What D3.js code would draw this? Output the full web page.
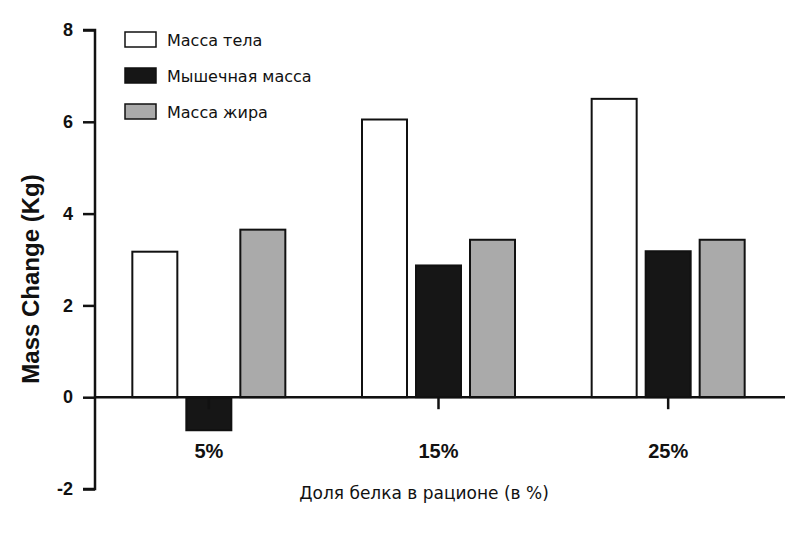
<!DOCTYPE html>
<html><head><meta charset="utf-8">
<script src="https://cdn.jsdelivr.net/npm/d3@7"></script>
<style>body{margin:0;background:#fff}</style>
</head><body>
<svg id="c" width="807" height="542"></svg>
<script>
const groups = ["5%", "15%", "25%"];
const series = ["Масса тела", "Мышечная масса", "Масса жира"];
const bodyMass = [3.17, 6.05, 6.5];
const muscleMass = [-0.72, 2.87, 3.18];
const fatMass = [3.65, 3.43, 3.43];
const yTicks = [-2, 0, 2, 4, 6, 8];
const colors = ["#ffffff", "#161616", "#aaaaaa"];
const yTitle = "Mass Change (Kg)";
const xTitle = "Доля белка в рационе (в %)";

const values = [bodyMass, muscleMass, fatMass];
const svg = d3.select("#c");
const y = d3.scaleLinear().domain([-2, 8]).range([489, 30]);
const x = d3.scaleBand().domain(groups).range([94, 783]);
const xi = d3.scaleBand().domain(series).range([-76.5, 76.5]).paddingInner(0.1667).paddingOuter(0);

// bars
series.forEach((s, si) => {
  svg.append("g").selectAll("rect").data(groups).join("rect")
    .attr("x", g => x(g) + x.bandwidth() / 2 + xi(s))
    .attr("width", xi.bandwidth())
    .attr("y", (g, i) => y(Math.max(0, values[si][i])))
    .attr("height", (g, i) => Math.abs(y(values[si][i]) - y(0)))
    .attr("fill", colors[si])
    .attr("stroke", "#111").attr("stroke-width", 2);
});

// y axis
const ya = svg.append("g").attr("transform", "translate(95,0)")
  .call(d3.axisLeft(y).tickValues(yTicks).tickSize(12).tickPadding(10).tickFormat(d => String(d)));
ya.select(".domain").attr("stroke", "#111").attr("stroke-width", 2.5).attr("d", "M-12," + y(8) + "H0V" + y(-2) + "H-12");
ya.selectAll(".tick line").attr("stroke", "#111").attr("stroke-width", 2.5);
ya.selectAll(".tick text").attr("font-family", "Liberation Sans, Arial, sans-serif")
  .attr("font-weight", "bold").attr("font-size", 18).attr("fill", "#111");

// x axis at zero
const xa = svg.append("g").attr("transform", `translate(0,${y(0)})`)
  .call(d3.axisBottom(x).tickSize(12).tickPadding(35));
xa.select(".domain").attr("stroke", "#111").attr("stroke-width", 2.5).attr("d", "M94,0H785");
xa.selectAll(".tick line").attr("stroke", "#111").attr("stroke-width", 2.5);
xa.selectAll(".tick text").attr("font-family", "Liberation Sans, Arial, sans-serif")
  .attr("font-weight", "bold").attr("font-size", 20).attr("fill", "#111");

// y title
svg.append("text").attr("transform", "translate(39,279) rotate(-90)")
  .attr("text-anchor", "middle").attr("font-family", "Liberation Sans, Arial, sans-serif")
  .attr("font-weight", "bold").attr("font-size", 24).attr("fill", "#111").text(yTitle);

// x title
svg.append("text").attr("x", 424).attr("y", 499).attr("text-anchor", "middle")
  .attr("font-family", "DejaVu Sans, Verdana, sans-serif").attr("font-size", 17)
  .attr("fill", "#111").text(xTitle);

// legend
const lg = svg.append("g");
series.forEach((s, i) => {
  lg.append("rect").attr("x", 125).attr("y", 32 + i * 36).attr("width", 31).attr("height", 15)
    .attr("fill", colors[i]).attr("stroke", "#111").attr("stroke-width", 1.5);
  lg.append("text").attr("x", 167).attr("y", 46 + i * 36)
    .attr("font-family", "DejaVu Sans, Verdana, sans-serif").attr("font-size", 16)
    .attr("fill", "#111").text(s);
});
</script>
</body></html>
